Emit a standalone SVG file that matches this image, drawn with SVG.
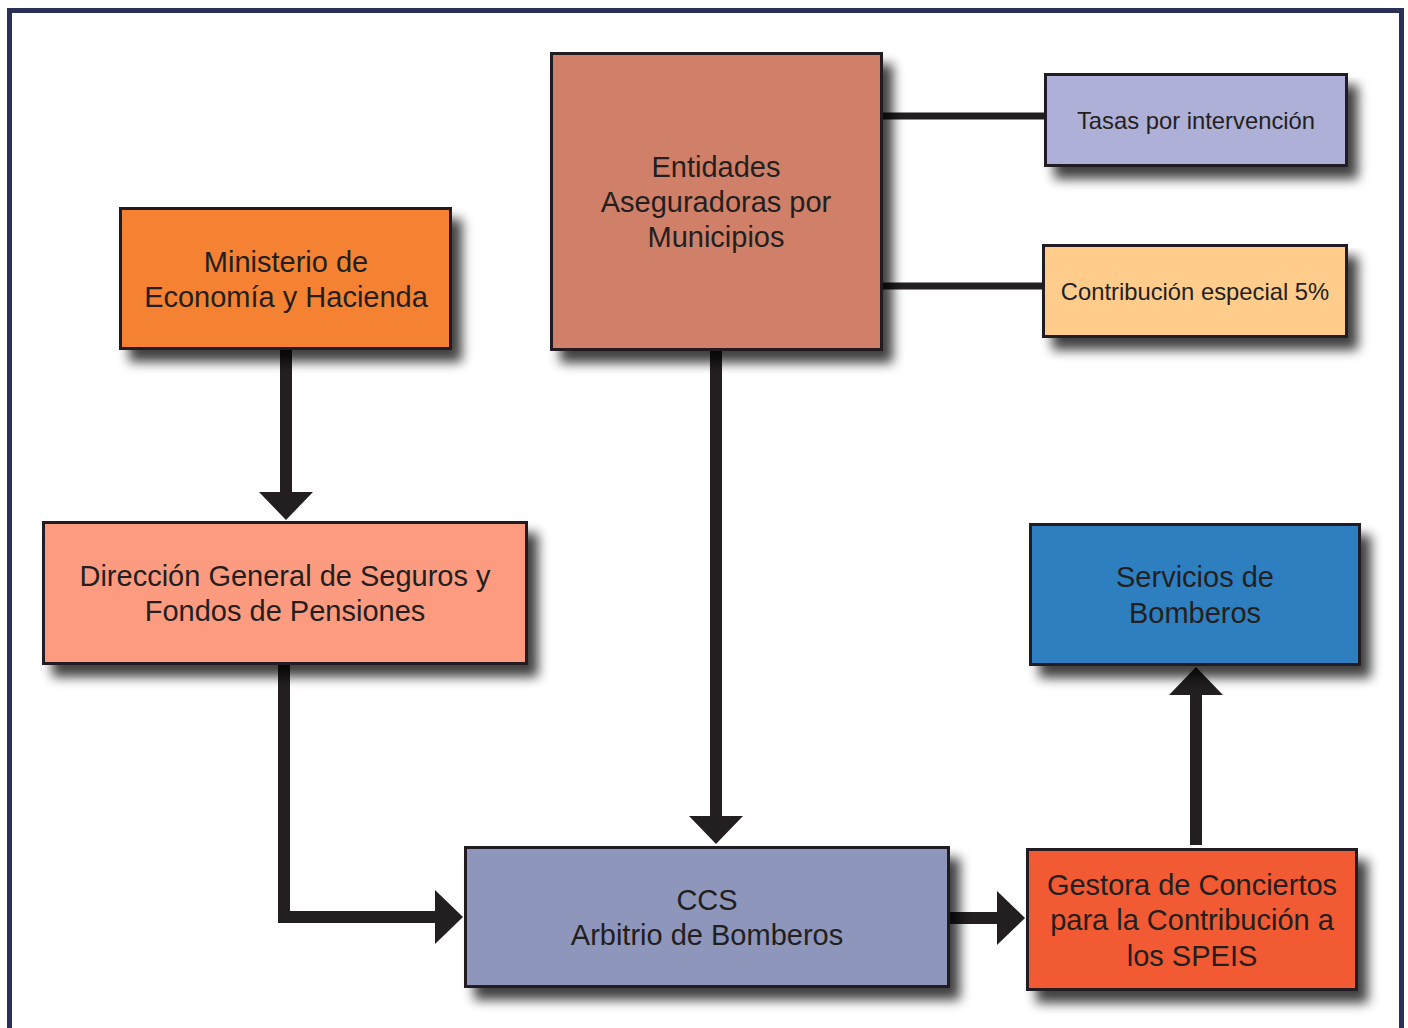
<svg xmlns="http://www.w3.org/2000/svg" width="1408" height="1028" viewBox="0 0 1408 1028">
<defs>
<filter id="sh" x="-10%" y="-10%" width="130%" height="140%">
<feGaussianBlur in="SourceAlpha" stdDeviation="6"/>
<feOffset dx="10" dy="12" result="b"/>
<feComponentTransfer><feFuncA type="linear" slope="0.75"/></feComponentTransfer>
<feMerge><feMergeNode/><feMergeNode in="SourceGraphic"/></feMerge>
</filter>
</defs>
<style>
.box{stroke:#231f20;stroke-width:3;filter:url(#sh)}
.t{font-family:"Liberation Sans",Arial,sans-serif;font-size:29px;fill:#231f20;text-anchor:middle}
.s{font-family:"Liberation Sans",Arial,sans-serif;font-size:23.8px;fill:#231f20;text-anchor:middle}
.ln{stroke:#231f20;fill:none}
.ah{fill:#231f20}
</style>
<rect x="0" y="0" width="1408" height="1028" fill="#ffffff"/>
<path d="M9.5,1030 V10.5 H1401.5 V1030" fill="none" stroke="#2b3055" stroke-width="5"/>

<g id="connectors">
<line class="ln" x1="882" y1="116" x2="1045" y2="116" stroke-width="7"/>
<line class="ln" x1="882" y1="286" x2="1043" y2="286" stroke-width="7"/>
<line class="ln" x1="286" y1="349" x2="286" y2="495" stroke-width="12"/>
<polygon class="ah" points="259,492 313,492 286,520"/>
<line class="ln" x1="716" y1="350" x2="716" y2="819" stroke-width="12"/>
<polygon class="ah" points="689,816 743,816 716,844"/>
<polyline class="ln" points="284,664 284,917 438,917" stroke-width="12"/>
<polygon class="ah" points="435,890 435,944 463,917"/>
<line class="ln" x1="949" y1="918" x2="1000" y2="918" stroke-width="12"/>
<polygon class="ah" points="997,891 997,945 1025,918"/>
<line class="ln" x1="1196" y1="845" x2="1196" y2="692" stroke-width="12"/>
<polygon class="ah" points="1169,695 1223,695 1196,667"/>
</g>

<g id="entidades">
<rect class="box" x="551.5" y="53.5" width="330" height="296" fill="#d08069"/>
<text class="t" x="716" y="177">Entidades</text>
<text class="t" x="716" y="212">Aseguradoras por</text>
<text class="t" x="716" y="247">Municipios</text>
</g>
<g id="tasas">
<rect class="box" x="1045.5" y="74.5" width="301" height="91" fill="#aeb0d8"/>
<text class="s" x="1196" y="129">Tasas por intervención</text>
</g>
<g id="contribucion">
<rect class="box" x="1043.5" y="245.5" width="303" height="91" fill="#ffcc8c"/>
<text class="s" x="1195" y="300">Contribución especial 5%</text>
</g>
<g id="ministerio">
<rect class="box" x="120.5" y="208.5" width="330" height="140" fill="#f58232"/>
<text class="t" x="286" y="272">Ministerio de</text>
<text class="t" x="286" y="307">Economía y Hacienda</text>
</g>
<g id="direccion">
<rect class="box" x="43.5" y="522.5" width="483" height="141" fill="#fd9b80"/>
<text class="t" x="285" y="586">Dirección General de Seguros y</text>
<text class="t" x="285" y="621">Fondos de Pensiones</text>
</g>
<g id="servicios">
<rect class="box" x="1030.5" y="524.5" width="329" height="140" fill="#2d7fc0"/>
<text class="t" x="1195" y="587">Servicios de</text>
<text class="t" x="1195" y="623">Bomberos</text>
</g>
<g id="ccs">
<rect class="box" x="465.5" y="847.5" width="483" height="139" fill="#8f96bb"/>
<text class="t" x="707" y="910">CCS</text>
<text class="t" x="707" y="945">Arbitrio de Bomberos</text>
</g>
<g id="gestora">
<rect class="box" x="1027.5" y="849.5" width="329" height="140" fill="#f15a33"/>
<text class="t" x="1192" y="895">Gestora de Conciertos</text>
<text class="t" x="1192" y="930">para la Contribución a</text>
<text class="t" x="1192" y="966">los SPEIS</text>
</g>
</svg>
